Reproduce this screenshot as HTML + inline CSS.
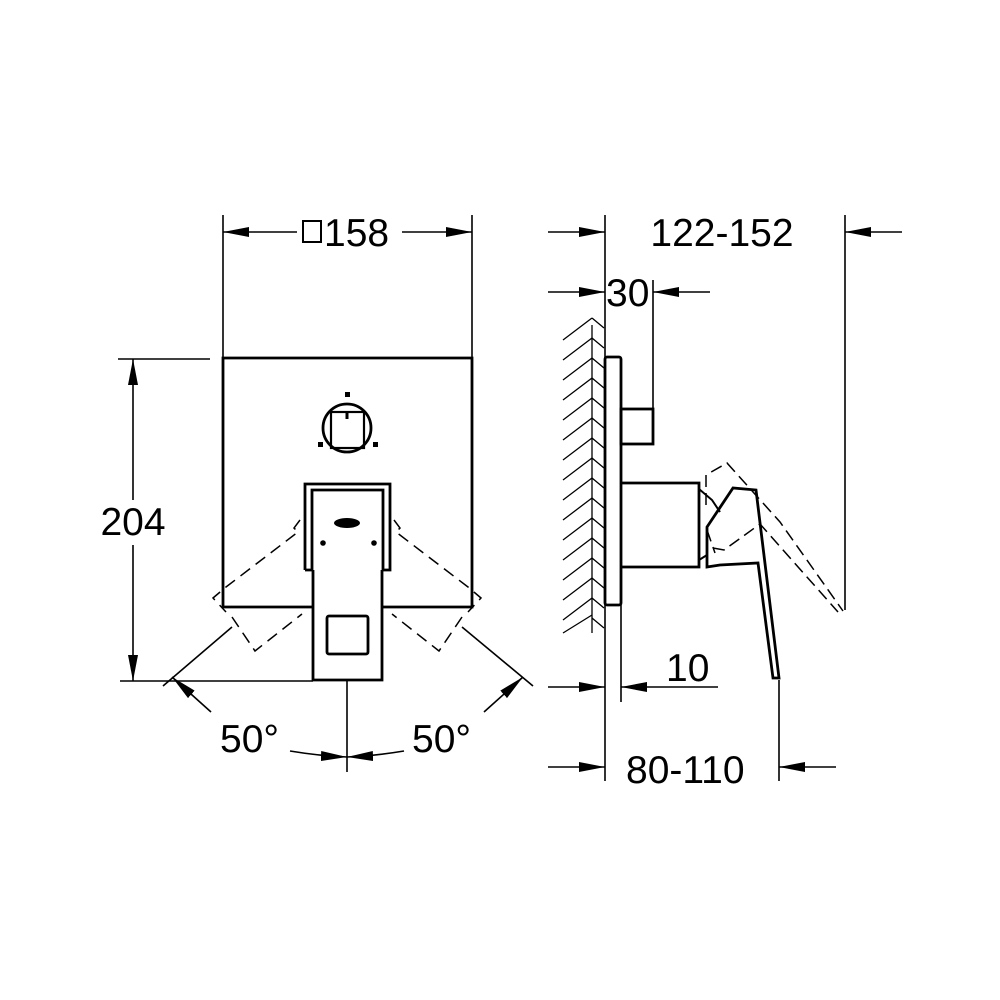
<!DOCTYPE html>
<html><head><meta charset="utf-8"><style>
html,body{margin:0;padding:0;background:#fff;}
svg{display:block;}
text{font-family:"Liberation Sans",sans-serif;fill:#000;}
</style></head><body>
<svg width="1000" height="1000" viewBox="0 0 1000 1000" xmlns="http://www.w3.org/2000/svg">
<defs>
<marker id="a" viewBox="0 0 26 10" refX="26" refY="5" markerWidth="26" markerHeight="10" markerUnits="userSpaceOnUse" orient="auto"><path d="M0,0 L26,5 L0,10 Z" fill="#000"/></marker>
</defs>
<g stroke="#000" fill="none" stroke-width="1.6">
<line x1="223" y1="215" x2="223" y2="358"/>
<line x1="472" y1="215" x2="472" y2="358"/>
<line x1="297" y1="232" x2="223" y2="232" marker-end="url(#a)"/>
<line x1="402" y1="232" x2="472" y2="232" marker-end="url(#a)"/>
<rect x="303" y="221" width="18" height="21" stroke-width="2"/>
<line x1="118" y1="359" x2="210" y2="359"/>
<line x1="120" y1="681" x2="313" y2="681"/>
<line x1="133" y1="500" x2="133" y2="359" marker-end="url(#a)"/>
<line x1="133" y1="545" x2="133" y2="681" marker-end="url(#a)"/>
<path d="M313,607 L223,607 L223,358 L472,358 L472,607 L382,607" stroke-width="2.8"/>
<circle cx="347" cy="428" r="24" stroke-width="2.8"/>
<rect x="331" y="412" width="33" height="36" stroke-width="2.2"/>
<line x1="347" y1="412" x2="347" y2="419" stroke-width="3"/>
<path d="M305,570 L305,484 L390,484 L390,570 L383,570 M312,570 L312,490 L383,490 L383,570" stroke-width="2.8"/>
<path d="M305,570 L312,570 M313,570 L313,680 L382,680 L382,570" stroke-width="2.8"/>
<rect x="327" y="616" width="41" height="38" rx="2" stroke-width="2.8"/>
<g stroke-dasharray="12,7" stroke-width="1.5">
<path d="M300,520 L294,528 L298,532 L226,587 L213,598 L226,612"/>
<path d="M232,617 L255,651 L302,614"/>
<path d="M394,520 L400,528 L396,532 L468,587 L481,598 L468,612"/>
<path d="M462,617 L439,651 L392,614"/>
</g>
<line x1="232" y1="627" x2="163" y2="686"/>
<line x1="462" y1="627" x2="533" y2="686"/>
<line x1="211" y1="712" x2="172" y2="677" marker-end="url(#a)"/>
<line x1="484" y1="712" x2="523" y2="677" marker-end="url(#a)"/>
<path d="M290,751 Q320,756 347,757" marker-end="url(#a)"/>
<path d="M404,751 Q374,756 347,757" marker-end="url(#a)"/>
<line x1="347" y1="681" x2="347" y2="772"/>
<line x1="605" y1="215" x2="605" y2="781"/>
<line x1="653" y1="280" x2="653" y2="408"/>
<line x1="845" y1="215" x2="845" y2="610"/>
<line x1="621" y1="605" x2="621" y2="702"/>
<line x1="779" y1="680" x2="779" y2="781"/>
<line x1="548" y1="232" x2="605" y2="232" marker-end="url(#a)"/>
<line x1="902" y1="232" x2="845" y2="232" marker-end="url(#a)"/>
<line x1="548" y1="292" x2="605" y2="292" marker-end="url(#a)"/>
<line x1="710" y1="292" x2="653" y2="292" marker-end="url(#a)"/>
<line x1="548" y1="687" x2="605" y2="687" marker-end="url(#a)"/>
<line x1="718" y1="687" x2="621" y2="687" marker-end="url(#a)"/>
<line x1="548" y1="767" x2="605" y2="767" marker-end="url(#a)"/>
<line x1="836" y1="767" x2="779" y2="767" marker-end="url(#a)"/>
<rect x="605" y="357" width="16" height="248" rx="2" stroke-width="2.8"/>
<rect x="621" y="409" width="32" height="35" stroke-width="2.8"/>
<path d="M621,483 L699,483 L699,567 L621,567" stroke-width="2.8"/>
<path d="M699,489 L712,500 L720,512 M699,560 L707,555" stroke-width="2"/>
<path d="M707,567 L707,527 L733,488 L756,490 L779,678 L773,678 L758,563 L720,565 Z" stroke-width="2.8"/>
<g stroke-dasharray="12,6" stroke-width="1.5">
<path d="M706,505 L706,475 L727,463 L780,522 L843,611"/>
<path d="M713,548 L724,550 L760,524 L838,612"/>
<path d="M707,530 L715,553"/>
</g>
</g>
<g fill="#000">
<rect x="345" y="392" width="5" height="5"/>
<rect x="318" y="442" width="5" height="5"/>
<rect x="373" y="442" width="5" height="5"/>
<circle cx="323" cy="543" r="2.8"/>
<circle cx="374" cy="543" r="2.8"/>
<ellipse cx="347" cy="523" rx="13" ry="5"/>
</g>
<g stroke="#000" stroke-width="1.3" fill="none">
<path d="M563,340 L592,318 M563,360 L592,338 M563,380 L592,358 M563,400 L592,378 M563,420 L592,398 M563,440 L592,418 M563,460 L592,438 M563,480 L592,458 M563,500 L592,478 M563,520 L592,498 M563,540 L592,518 M563,560 L592,538 M563,580 L592,558 M563,600 L592,578 M563,620 L592,598 M563,633 L592,615"/>
<path d="M592,325 L592,633"/>
<path d="M592,318 L604,328 M592,338 L604,348 M592,358 L604,368 M592,378 L604,388 M592,398 L604,408 M592,418 L604,428 M592,438 L604,448 M592,458 L604,468 M592,478 L604,488 M592,498 L604,508 M592,518 L604,528 M592,538 L604,548 M592,558 L604,568 M592,578 L604,588 M592,598 L604,608 M592,618 L604,628"/>
</g>
<g font-size="39">
<text x="324" y="246">158</text>
<text x="133" y="535" text-anchor="middle">204</text>
<text x="220" y="752">50°</text>
<text x="412" y="752">50°</text>
<text x="722" y="246" text-anchor="middle">122-152</text>
<text x="606" y="306">30</text>
<text x="666" y="681">10</text>
<text x="626" y="783">80-110</text>
</g>
</svg>
</body></html>
